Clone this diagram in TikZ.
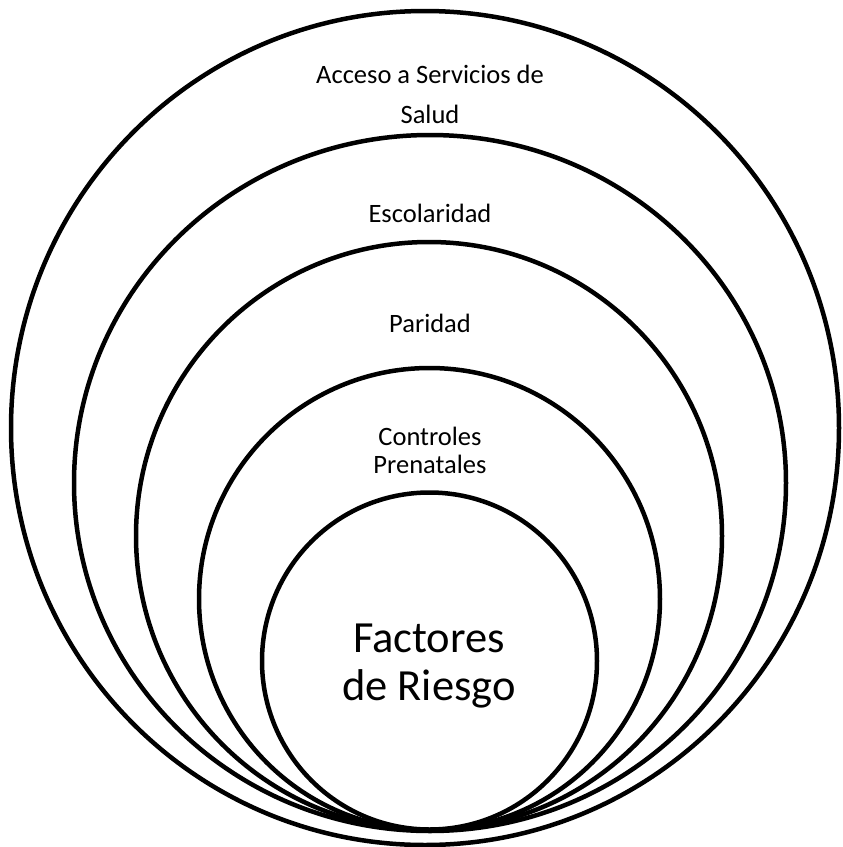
\documentclass[tikz,border=0pt]{standalone}
\usepackage{fontspec}
\setmainfont{Carlito}
\begin{document}
\begin{tikzpicture}[x=1pt,y=-1pt,
  ring/.style={draw=black,line width=4.5pt},
  lbl/.style={align=center,inner sep=0pt,anchor=base,
    font=\fontsize{26.5}{40}\selectfont},
  lblb/.style={align=center,inner sep=0pt,anchor=base,
    font=\fontsize{26.5}{28}\selectfont},
  core/.style={align=center,inner sep=0pt,anchor=base,
    font=\fontsize{44.5}{48}\selectfont}]
  \useasboundingbox[fill=white] (0,0) rectangle (843,847);
  % nested rings, all resting near the bottom
  \draw[ring] (425,428) ellipse [x radius=414,y radius=417];
  \draw[ring] (430,483) ellipse [x radius=356,y radius=348];
  \draw[ring] (429,536) ellipse [x radius=293,y radius=294];
  \draw[ring] (429.5,599) ellipse [x radius=230.5,y radius=231];
  \draw[ring] (429.5,661) ellipse [x radius=167.5,y radius=168.5];
  % ring labels (anchor = baseline of the last line)
  \node[lbl] (acceso) at (430,123) {Acceso a Servicios de\\Salud};
  \node[lbl] (escolaridad) at (430,222) {Escolaridad};
  \node[lbl] (paridad) at (430,332) {Paridad};
  \node[lblb] (controles) at (430,473) {Controles\\Prenatales};
  \node[core] (factores) at (429,700) {Factores\\de Riesgo};
\end{tikzpicture}
\end{document}
